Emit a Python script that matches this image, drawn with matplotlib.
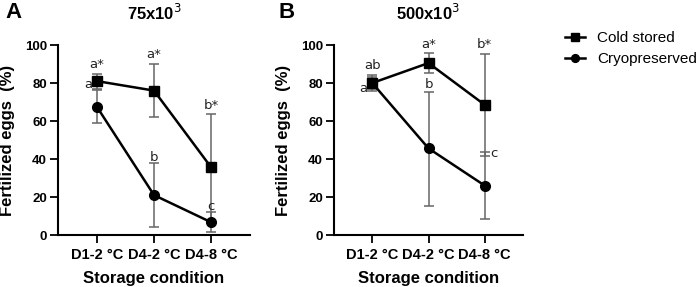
import matplotlib
matplotlib.use("Agg")
import matplotlib.pyplot as plt

plt.rcParams['font.family'] = ['Liberation Sans', 'DejaVu Sans']

conditions = ["D1-2 °C", "D4-2 °C", "D4-8 °C"]
series_names = ["Cold stored", "Cryopreserved"]

# panel A: 75x10^3
a_cold = [81, 76, 35.6]
a_cold_lo = [76.7, 62, 7.7]
a_cold_hi = [85, 90, 63.5]
a_cryo = [67.5, 21, 6.7]
a_cryo_lo = [59, 4.4, 1.8]
a_cryo_hi = [76.5, 37.7, 12]

# panel B: 500x10^3
b_cold = [80, 90.5, 68.5]
b_cold_lo = [76, 85.4, 41.6]
b_cold_hi = [84, 95.6, 95.5]
b_cryo = [80, 45.6, 26]
b_cryo_lo = [77, 15.3, 8.4]
b_cryo_hi = [83, 75.5, 43.5]

# significance letters: (category index, y value, text, horizontal offset)
a_letters = [(0, 90, "a*", 0), (0, 79, "a", -0.15), (1, 95, "a*", 0),
             (1, 41, "b", 0), (2, 68, "b*", 0), (2, 15, "c", 0)]
b_letters = [(0, 89, "ab", 0), (0, 77, "a", -0.16), (1, 100.5, "a*", 0),
             (1, 79, "b", 0), (2, 100.5, "b*", 0), (2, 43, "c", 0.16)]

fig = plt.figure(figsize=(6.99, 2.87), dpi=100)


def draw_panel(ax, cold, cold_lo, cold_hi, cryo, cryo_lo, cryo_hi, letters):
    x = range(len(conditions))
    for vals, lo, hi, marker, name in [(cold, cold_lo, cold_hi, 's', series_names[0]),
                                       (cryo, cryo_lo, cryo_hi, 'o', series_names[1])]:
        err = [[v - l for v, l in zip(vals, lo)], [h - v for v, h in zip(vals, hi)]]
        ax.errorbar(x, vals, yerr=err, fmt='none', ecolor='#666666',
                    elinewidth=1.1, capsize=3.5, capthick=1.1, zorder=2)
        ax.plot(x, vals, color='black', lw=1.8, marker=marker, ms=7,
                label=name, zorder=3)
    for i, y, t, dx in letters:
        ax.text(i + dx, y, t, ha='center', va='center', fontsize=9.5,
                color='#222222', family=['DejaVu Sans'])
    ax.set_xlim(-0.68, 2.68)
    ax.set_ylim(0, 100)
    ax.set_xticks(list(x))
    ax.set_xticklabels(conditions, fontsize=10.5, fontweight='bold')
    ax.set_yticks([0, 20, 40, 60, 80, 100])
    ax.tick_params(axis='y', labelsize=9.5, width=1.3, length=6, pad=2)
    ax.tick_params(axis='x', width=1.3, length=6)
    for lab in ax.get_yticklabels():
        lab.set_fontweight('bold')
    for s in ['top', 'right']:
        ax.spines[s].set_visible(False)
    for s in ['left', 'bottom']:
        ax.spines[s].set_linewidth(1.5)
    ax.set_xlabel("Storage condition", fontsize=12, fontweight='bold', labelpad=6)
    ax.set_ylabel("Fertilized eggs  (%)", fontsize=12, fontweight='bold', labelpad=7)


ax_a = fig.add_axes([58 / 699, 52 / 287, 192 / 699, 190 / 287])
draw_panel(ax_a, a_cold, a_cold_lo, a_cold_hi, a_cryo, a_cryo_lo, a_cryo_hi, a_letters)
ax_a.set_title("75x10$^3$", fontsize=12, fontweight='bold', pad=18)

ax_b = fig.add_axes([334 / 699, 52 / 287, 189 / 699, 190 / 287])
draw_panel(ax_b, b_cold, b_cold_lo, b_cold_hi, b_cryo, b_cryo_lo, b_cryo_hi, b_letters)
ax_b.set_title("500x10$^3$", fontsize=12, fontweight='bold', pad=18)

fig.text(5 / 699, 1 - 12 / 287, "A", fontsize=16, fontweight='bold', va='center')
fig.text(278 / 699, 1 - 12 / 287, "B", fontsize=16, fontweight='bold', va='center')

handles, labels = ax_b.get_legend_handles_labels()
fig.legend(handles, labels, loc='upper left', bbox_to_anchor=(565 / 699, 1 - 31 / 287),
           frameon=False, fontsize=11, handlelength=1.3, handletextpad=0.8,
           labelspacing=0.45, borderpad=0, borderaxespad=0, markerscale=0.8)

fig.savefig("out.png", dpi=100)
